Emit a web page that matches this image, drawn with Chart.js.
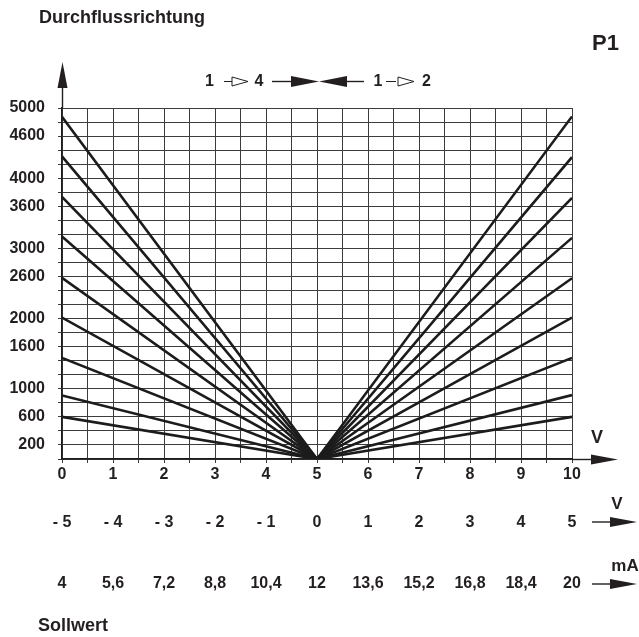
<!DOCTYPE html>
<html>
<head>
<meta charset="utf-8">
<title>Durchflussrichtung P1</title>
<script src="https://cdn.jsdelivr.net/npm/chart.js@4/dist/chart.umd.min.js"></script>
<style>
  html, body { margin: 0; padding: 0; background: #fff; }
  #diagramm { display: block; }
</style>
</head>
<body>
<canvas id="diagramm" width="639" height="637"></canvas>
<script>
// Sollwert in V (Hauptachse), dazu die zwei Zusatzskalen
const spannung = [0, 1, 2, 3, 4, 5, 6, 7, 8, 9, 10];
const sollwertVolt = ['- 5', '- 4', '- 3', '- 2', '- 1', '0', '1', '2', '3', '4', '5'];
const sollwertMA = ['4', '5,6', '7,2', '8,8', '10,4', '12', '13,6', '15,2', '16,8', '18,4', '20'];

// Raster und beschriftete Werte der Durchfluss-Achse
const xRaster = [0, 0.5, 1, 1.5, 2, 2.5, 3, 3.5, 4, 4.5, 5, 5.5, 6, 6.5, 7, 7.5, 8, 8.5, 9, 9.5, 10];
const yRaster = [0, 200, 400, 600, 800, 1000, 1200, 1400, 1600, 1800, 2000, 2200, 2400, 2600,
                 2800, 3000, 3200, 3400, 3600, 3800, 4000, 4200, 4400, 4600, 4800, 5000];
const yBeschriftung = [200, 600, 1000, 1600, 2000, 2600, 3000, 3600, 4000, 4600, 5000];

// Kennlinien: Durchfluss bei 0 V (1 -> 4) und bei 10 V (1 -> 2), Nullpunkt bei 5 V
const mitte = 5;
const durchflussLinks = [600, 905, 1440, 2015, 2580, 3170, 3735, 4310, 4875];
const durchflussRechts = [600, 910, 1440, 2015, 2575, 3150, 3720, 4300, 4880];

const schrift = '"Liberation Sans", Arial, Helvetica, sans-serif';
const textFarbe = '#231f20';
const rasterFarbe = '#3c3c3c';

const datensaetze = durchflussLinks.map(function (links, i) {
    return {
        data: [
            { x: spannung[0], y: links },
            { x: mitte, y: 0 },
            { x: spannung[spannung.length - 1], y: durchflussRechts[i] }
        ],
        borderColor: '#1c1c1c',
        borderWidth: 2.6,
        pointRadius: 0,
        fill: false,
        tension: 0
    };
});

function kopf(ctx, x, y, dx, dy, laenge, halb, offen) {
    const bx = x - dx * laenge, by = y - dy * laenge;
    ctx.beginPath();
    ctx.moveTo(x, y);
    ctx.lineTo(bx - dy * halb, by + dx * halb);
    ctx.lineTo(bx + dy * halb, by - dx * halb);
    ctx.closePath();
    if (offen) {
        ctx.fillStyle = '#fff';
        ctx.fill();
        ctx.stroke();
        ctx.fillStyle = textFarbe;
    } else {
        ctx.fill();
    }
}

function strich(ctx, x1, y1, x2, y2) {
    ctx.beginPath();
    ctx.moveTo(x1, y1);
    ctx.lineTo(x2, y2);
    ctx.stroke();
}

function text(ctx, t, x, y, groesse, ausrichtung) {
    ctx.font = 'bold ' + groesse + 'px ' + schrift;
    ctx.textAlign = ausrichtung || 'center';
    ctx.textBaseline = 'middle';
    ctx.fillText(t, x, y);
}

const beschriftung = {
    id: 'beschriftung',
    afterDraw(chart) {
        const ctx = chart.ctx;
        const area = chart.chartArea;
        const ax = Math.round(area.left) + 0.5;
        const ay = Math.round(area.bottom) + 0.5;
        ctx.save();
        ctx.fillStyle = textFarbe;
        ctx.strokeStyle = textFarbe;

        // Achsenpfeile
        ctx.lineWidth = 1.4;
        strich(ctx, ax, area.top, ax, 86);
        kopf(ctx, ax, 62, 0, -1, 26, 5, false);
        strich(ctx, area.right, ay, 593, ay);
        kopf(ctx, 618, ay, 1, 0, 27, 5, false);
        text(ctx, 'V', 597, 438, 18);

        // Zusatzskalen rechts
        strich(ctx, 592, 522, 612, 522);
        kopf(ctx, 637, 522, 1, 0, 27, 5, false);
        text(ctx, 'V', 617, 504, 17);
        strich(ctx, 592, 584, 612, 584);
        kopf(ctx, 637, 584, 1, 0, 27, 5, false);
        text(ctx, 'mA', 625, 566, 17);

        // Durchflussrichtung oben
        const yp = 81.5;
        text(ctx, '1', 209.5, yp + 0.5, 16);
        ctx.lineWidth = 1;
        strich(ctx, 224, yp, 233, yp);
        kopf(ctx, 248, yp, 1, 0, 16, 4.5, true);
        text(ctx, '4', 259, yp + 0.5, 16);
        ctx.lineWidth = 1.4;
        strich(ctx, 272, yp, 292, yp);
        kopf(ctx, 319, yp, 1, 0, 28, 5.5, false);
        kopf(ctx, 319, yp, -1, 0, 28, 5.5, false);
        strich(ctx, 346, yp, 364, yp);
        text(ctx, '1', 378, yp + 0.5, 16);
        ctx.lineWidth = 1;
        strich(ctx, 386, yp, 396, yp);
        kopf(ctx, 414, yp, 1, 0, 16, 4.5, true);
        text(ctx, '2', 426.5, yp + 0.5, 16);

        // Titel
        text(ctx, 'Durchflussrichtung', 39, 18, 18, 'left');
        text(ctx, 'P1', 592, 44, 22, 'left');
        text(ctx, 'Sollwert', 38, 626, 18, 'left');
        ctx.restore();
    }
};

const tickFont = { family: schrift, size: 16, weight: 'bold' };

const ctx = document.getElementById('diagramm').getContext('2d');
const diagramm = new Chart(ctx, {
    type: 'line',
    data: { datasets: datensaetze },
    options: {
        responsive: false,
        animation: false,
        events: [],
        layout: { padding: { top: 108, right: 67, left: 0, bottom: 33 } },
        plugins: {
            legend: { display: false },
            tooltip: { enabled: false }
        },
        scales: {
            x: {
                type: 'linear',
                position: 'bottom',
                weight: 0,
                min: 0,
                max: 10,
                afterBuildTicks: function (scale) {
                    scale.ticks = xRaster.map(v => ({ value: v }));
                },
                afterFit: function (scale) { scale.height = 54; },
                grid: { color: rasterFarbe, lineWidth: 1, tickLength: 4, drawTicks: true },
                border: { color: '#1c1c1c', width: 1.4 },
                ticks: {
                    autoSkip: false,
                    maxRotation: 0,
                    padding: 2,
                    color: textFarbe,
                    font: tickFont,
                    callback: function (v) {
                        return spannung.includes(v) ? String(v) : '';
                    }
                }
            },
            x2: {
                type: 'linear',
                position: 'bottom',
                weight: 1,
                min: 0,
                max: 10,
                afterBuildTicks: function (scale) {
                    scale.ticks = spannung.map(v => ({ value: v }));
                },
                afterFit: function (scale) { scale.height = 61; },
                grid: { display: false, drawTicks: false },
                border: { display: false },
                ticks: {
                    autoSkip: false,
                    maxRotation: 0,
                    padding: 0,
                    color: textFarbe,
                    font: tickFont,
                    callback: function (v, i) { return sollwertVolt[i]; }
                }
            },
            x3: {
                type: 'linear',
                position: 'bottom',
                weight: 2,
                min: 0,
                max: 10,
                afterBuildTicks: function (scale) {
                    scale.ticks = spannung.map(v => ({ value: v }));
                },
                afterFit: function (scale) { scale.height = 30; },
                grid: { display: false, drawTicks: false },
                border: { display: false },
                ticks: {
                    autoSkip: false,
                    maxRotation: 0,
                    padding: 0,
                    color: textFarbe,
                    font: tickFont,
                    callback: function (v, i) { return sollwertMA[i]; }
                }
            },
            y: {
                type: 'linear',
                min: 0,
                max: 5000,
                afterBuildTicks: function (scale) {
                    scale.ticks = yRaster.map(v => ({ value: v }));
                },
                afterFit: function (scale) { scale.width = 62; },
                grid: { color: rasterFarbe, lineWidth: 1, tickLength: 4, drawTicks: true },
                border: { color: '#1c1c1c', width: 1.4 },
                ticks: {
                    autoSkip: false,
                    padding: 13,
                    color: textFarbe,
                    font: tickFont,
                    callback: function (v) {
                        return yBeschriftung.includes(v) ? String(v) : '';
                    }
                }
            }
        }
    },
    plugins: [beschriftung]
});
</script>
</body>
</html>
